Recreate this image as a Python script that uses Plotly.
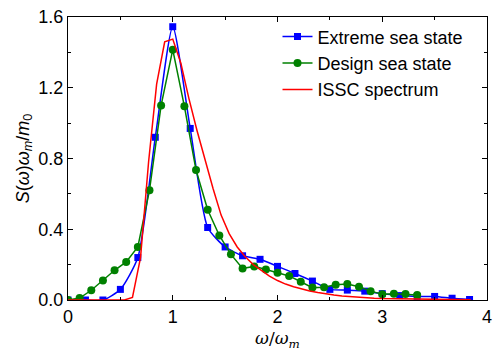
import plotly.graph_objects as go

# Extreme sea state (x = k/6)
ext_x = [k / 6 for k in range(24)]
ext_y = [0.0, 0.0, 0.0, 0.06, 0.24, 0.92, 1.545, 0.97, 0.41, 0.30, 0.25, 0.23,
         0.19, 0.15, 0.107, 0.06, 0.056, 0.05, 0.036, 0.025, 0.02, 0.02, 0.01, 0.003]

# Design sea state (x = k/9)
des_x = [k / 9 for k in range(31)]
des_y = [0.0, 0.011, 0.055, 0.11, 0.168, 0.215, 0.30, 0.62, 1.10, 1.415, 1.095,
         0.735, 0.51, 0.365, 0.258, 0.178, 0.19, 0.172, 0.154, 0.136, 0.103,
         0.07, 0.072, 0.086, 0.09, 0.075, 0.05, 0.032, 0.036, 0.034, 0.028]

# ISSC spectrum (x = k/13)
issc_x = [k / 13 for k in range(51)]
issc_y = [0, 0, 0, 0, 0, 0, 0, 0, 0.015, 0.24, 0.78, 1.22, 1.46, 1.475, 1.34,
          1.14, 0.96, 0.79, 0.63, 0.48, 0.375, 0.30, 0.245, 0.20, 0.165, 0.135,
          0.11, 0.09, 0.075, 0.062, 0.051, 0.042, 0.034, 0.028, 0.023, 0.019,
          0.015, 0.012, 0.010, 0.008, 0.007, 0.006, 0.005, 0.004, 0.004, 0.003,
          0.003, 0.002, 0.002, 0.002, 0.001]

x_ticks = [0, 1, 2, 3, 4]
y_ticks = [0.0, 0.4, 0.8, 1.2, 1.6]

FONT = "Liberation Sans, Arial, sans-serif"

fig = go.Figure()
fig.add_trace(go.Scatter(x=ext_x, y=ext_y, mode="lines+markers", name="Extreme sea state",
                         line=dict(color="#0000FF", width=1.5, shape="spline", smoothing=0.6),
                         marker=dict(symbol="square", size=7, color="#0000FF")))
fig.add_trace(go.Scatter(x=des_x, y=des_y, mode="lines+markers", name="Design sea state",
                         line=dict(color="#008000", width=1.5),
                         marker=dict(symbol="circle", size=8, color="#008000")))
fig.add_trace(go.Scatter(x=issc_x, y=issc_y, mode="lines", name="ISSC spectrum",
                         line=dict(color="#FF0000", width=1.5)))

axis_common = dict(showgrid=False, zeroline=False, showline=True, linecolor="black",
                   linewidth=1, mirror="allticks", ticks="inside", ticklen=5,
                   tickcolor="black", ticklabeloverflow="allow",
                   tickfont=dict(family=FONT, size=18, color="black"))

fig.update_xaxes(range=[0, 4], tickvals=x_ticks, ticktext=[str(v) for v in x_ticks],
                 minor=dict(ticks="inside", ticklen=3, dtick=0.5, tickcolor="black"),
                 title=dict(text="<i>ω</i>/<i>ω</i><sub><i>m</i></sub>",
                            font=dict(family="DejaVu Serif, serif", size=17), standoff=6),
                 **axis_common)
fig.update_yaxes(range=[0, 1.6], tickvals=y_ticks, ticktext=[f"{v:.1f}" for v in y_ticks],
                 minor=dict(ticks="inside", ticklen=3, dtick=0.2, tickcolor="black"),
                 title=dict(text="<i>S</i>(<i>ω</i>)<i>ω</i><sub><i>m</i></sub>/<i>m</i><sub>0</sub>",
                            font=dict(family=FONT, size=18), standoff=4),
                 **axis_common)

fig.update_layout(
    width=497, height=352,
    margin=dict(l=68, r=5, t=17, b=52),
    plot_bgcolor="white", paper_bgcolor="white",
    font=dict(family=FONT, color="black"),
    legend=dict(x=0.5, y=0.995, xanchor="left", yanchor="top",
                bgcolor="rgba(0,0,0,0)", font=dict(family=FONT, size=18),
                tracegroupgap=0),
)

fig.write_html("out.html")
